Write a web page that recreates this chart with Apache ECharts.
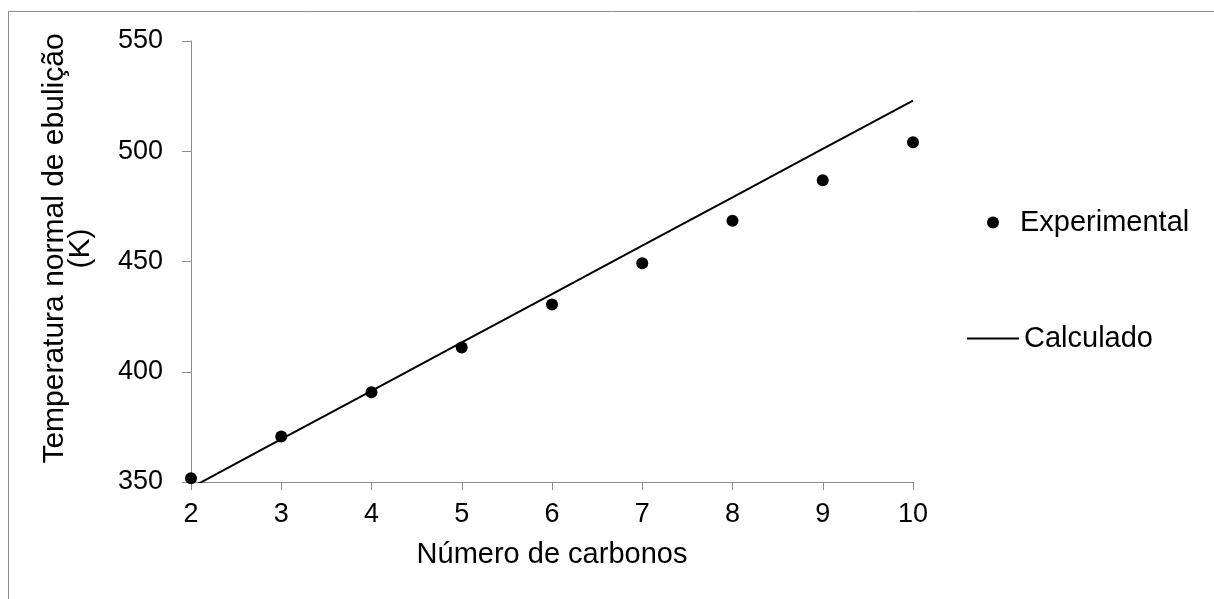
<!DOCTYPE html>
<html>
<head>
<meta charset="utf-8">
<script src="https://cdn.jsdelivr.net/npm/echarts@6/dist/echarts.min.js"></script>
<style>
    html, body { margin: 0; padding: 0; background: #fff; }
    #main { width: 1214px; height: 599px; }
</style>
</head>
<body>
<div id="main"></div>
<script>
// número de carbonos
var carbonos = [2, 3, 4, 5, 6, 7, 8, 9, 10];
// pontos experimentais (K)
var experimental = [351.7, 370.6, 390.7, 411.0, 430.5, 449.2, 468.5, 486.8, 504.1];
// reta calculada (K)
var calculado = [347.4, 369.4, 391.3, 413.3, 435.2, 457.2, 479.1, 501.1, 523.0];
var yTicks = [350, 400, 450, 500, 550];

var fonte = 'Liberation Sans, Arial, sans-serif';
var cinza = '#8c8c8c';

function pares(xs, ys) {
    return xs.map(function (x, i) { return [x, ys[i]]; });
}

var chart = echarts.init(document.getElementById('main'));
var option = {
    animation: false,
    backgroundColor: '#fff',
    graphic: [{
        type: 'rect',
        shape: { x: 8.5, y: 11.5, width: 1230, height: 610 },
        style: { fill: 'none', stroke: cinza, lineWidth: 1 },
        silent: true
    }],
    grid: { left: 191, right: 301, top: 41, bottom: 117 },
    legend: [{
        data: ['Experimental'],
        left: 982,
        top: 203,
        icon: 'circle',
        itemWidth: 12,
        itemHeight: 12,
        textStyle: { fontFamily: fonte, fontSize: 29, color: '#000', padding: [0, 0, 0, 16] }
    }, {
        data: ['Calculado'],
        left: 962,
        top: 319,
        icon: 'rect',
        itemWidth: 52,
        itemHeight: 2,
        itemStyle: { color: '#000' },
        textStyle: { fontFamily: fonte, fontSize: 29, color: '#000' }
    }],
    xAxis: {
        type: 'value',
        min: 2,
        max: 10,
        interval: 1,
        name: 'Número de carbonos',
        nameLocation: 'middle',
        nameGap: 58,
        nameTextStyle: { fontFamily: fonte, fontSize: 29, color: '#000' },
        axisLine: { show: true, lineStyle: { color: cinza, width: 1 } },
        axisTick: { show: true, length: 8, lineStyle: { color: cinza } },
        axisLabel: { fontFamily: fonte, fontSize: 27, color: '#000', margin: 19 },
        splitLine: { show: false }
    },
    yAxis: {
        type: 'value',
        min: yTicks[0],
        max: yTicks[yTicks.length - 1],
        interval: 50,
        name: 'Temperatura normal de ebulição\n(K)',
        nameLocation: 'middle',
        nameGap: 97,
        nameTextStyle: { fontFamily: fonte, fontSize: 30, color: '#000', lineHeight: 26, padding: [0, 0, 0, 26] },
        axisLine: { show: true, lineStyle: { color: cinza, width: 1 } },
        axisTick: { show: true, length: 9, lineStyle: { color: cinza } },
        axisLabel: { fontFamily: fonte, fontSize: 27, color: '#000', margin: 28 },
        splitLine: { show: false }
    },
    series: [{
        name: 'Calculado',
        type: 'line',
        data: pares(carbonos, calculado),
        symbol: 'none',
        clip: true,
        lineStyle: { color: '#000', width: 2 },
        itemStyle: { color: '#000' },
        z: 2
    }, {
        name: 'Experimental',
        type: 'scatter',
        data: pares(carbonos, experimental),
        symbol: 'circle',
        symbolSize: 12,
        clip: false,
        itemStyle: { color: '#000', opacity: 1 },
        z: 3
    }]
};
chart.setOption(option);
</script>
</body>
</html>
